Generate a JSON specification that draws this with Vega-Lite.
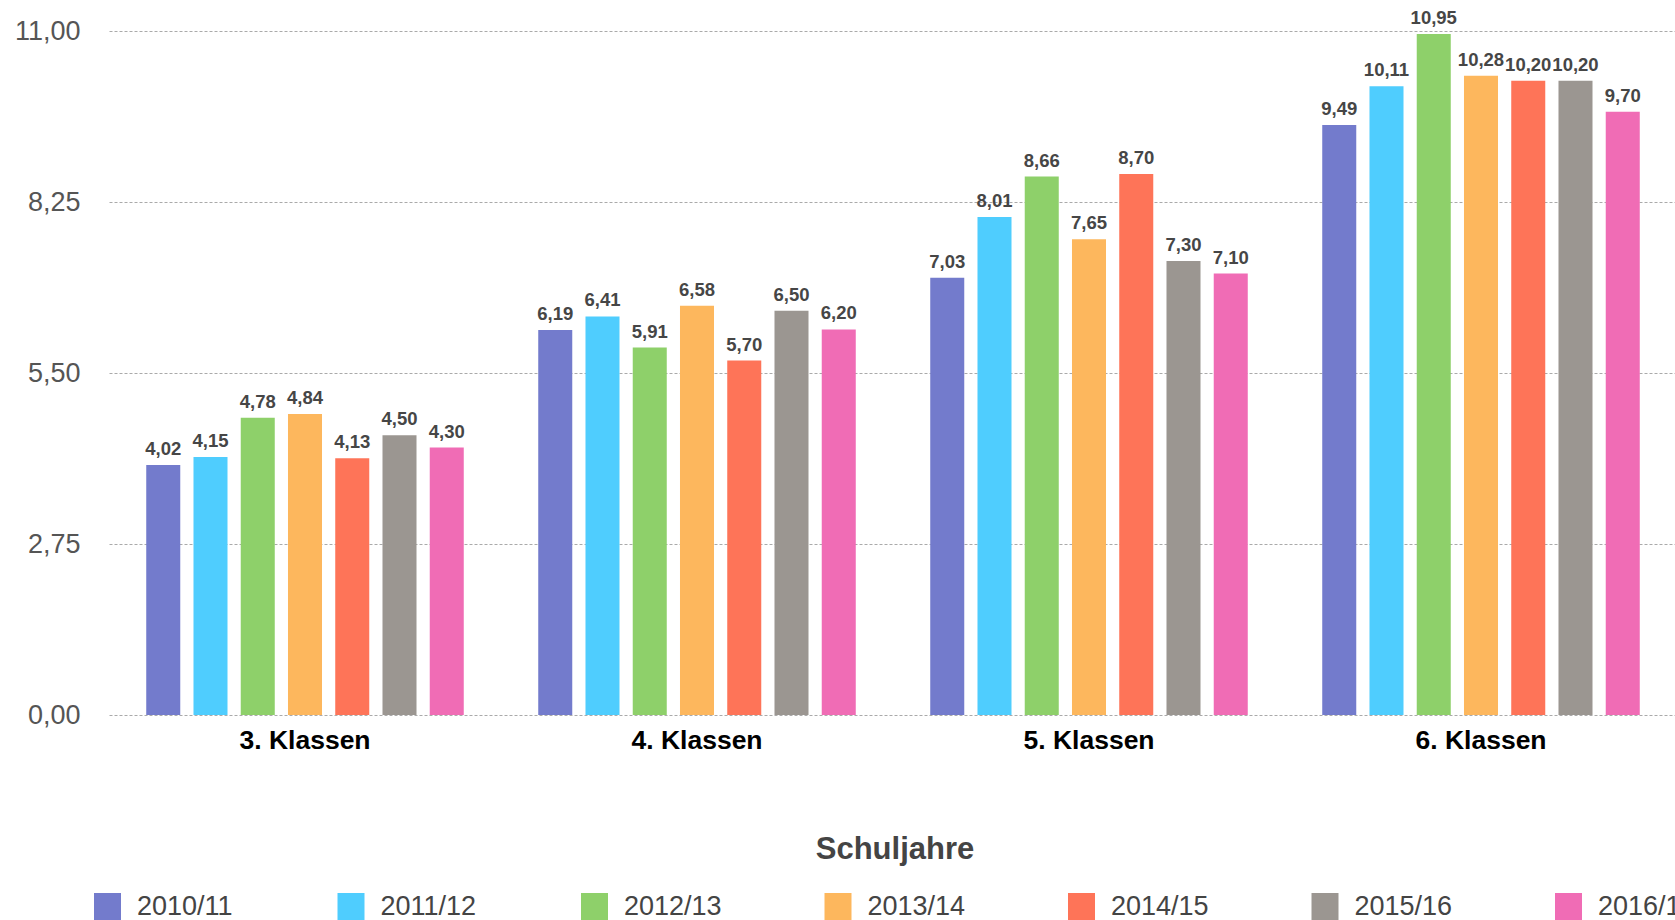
{
  "$schema": "https://vega.github.io/schema/vega-lite/v6.json",
  "autosize": "none",
  "padding": {"left": 109, "top": 31, "right": 0, "bottom": 205},
  "width": 1568,
  "height": 684,
  "background": "white",
  "config": {
    "font": "Liberation Sans",
    "view": {"stroke": null},
    "locale": {"number": {"decimal": ",", "thousands": ".", "grouping": [3], "currency": ["", " €"]}}
  },
  "data": {
    "values": [
      {"klasse": "3. Klassen", "jahr": "2010/11", "wert": 4.02},
      {"klasse": "3. Klassen", "jahr": "2011/12", "wert": 4.15},
      {"klasse": "3. Klassen", "jahr": "2012/13", "wert": 4.78},
      {"klasse": "3. Klassen", "jahr": "2013/14", "wert": 4.84},
      {"klasse": "3. Klassen", "jahr": "2014/15", "wert": 4.13},
      {"klasse": "3. Klassen", "jahr": "2015/16", "wert": 4.50},
      {"klasse": "3. Klassen", "jahr": "2016/17", "wert": 4.30},
      {"klasse": "4. Klassen", "jahr": "2010/11", "wert": 6.19},
      {"klasse": "4. Klassen", "jahr": "2011/12", "wert": 6.41},
      {"klasse": "4. Klassen", "jahr": "2012/13", "wert": 5.91},
      {"klasse": "4. Klassen", "jahr": "2013/14", "wert": 6.58},
      {"klasse": "4. Klassen", "jahr": "2014/15", "wert": 5.70},
      {"klasse": "4. Klassen", "jahr": "2015/16", "wert": 6.50},
      {"klasse": "4. Klassen", "jahr": "2016/17", "wert": 6.20},
      {"klasse": "5. Klassen", "jahr": "2010/11", "wert": 7.03},
      {"klasse": "5. Klassen", "jahr": "2011/12", "wert": 8.01},
      {"klasse": "5. Klassen", "jahr": "2012/13", "wert": 8.66},
      {"klasse": "5. Klassen", "jahr": "2013/14", "wert": 7.65},
      {"klasse": "5. Klassen", "jahr": "2014/15", "wert": 8.70},
      {"klasse": "5. Klassen", "jahr": "2015/16", "wert": 7.30},
      {"klasse": "5. Klassen", "jahr": "2016/17", "wert": 7.10},
      {"klasse": "6. Klassen", "jahr": "2010/11", "wert": 9.49},
      {"klasse": "6. Klassen", "jahr": "2011/12", "wert": 10.11},
      {"klasse": "6. Klassen", "jahr": "2012/13", "wert": 10.95},
      {"klasse": "6. Klassen", "jahr": "2013/14", "wert": 10.28},
      {"klasse": "6. Klassen", "jahr": "2014/15", "wert": 10.20},
      {"klasse": "6. Klassen", "jahr": "2015/16", "wert": 10.20},
      {"klasse": "6. Klassen", "jahr": "2016/17", "wert": 9.70}
    ]
  },
  "encoding": {
    "x": {
      "field": "klasse", "type": "nominal", "title": null,
      "scale": {"paddingInner": 0.19, "paddingOuter": 0.095},
      "axis": {"domain": false, "ticks": false, "labelAngle": 0, "labelFontSize": 26.5, "labelFontWeight": "bold", "labelColor": "#000000", "labelPadding": 12, "labelDx": -13}
    },
    "xOffset": {
      "field": "jahr", "type": "nominal",
      "scale": {"paddingInner": 0.28, "paddingOuter": 0}
    },
    "y": {
      "field": "wert", "type": "quantitative", "title": null,
      "scale": {"domain": [0, 11], "nice": false},
      "axis": {"domain": false, "ticks": false, "values": [0, 2.75, 5.5, 8.25, 11], "format": ".2f", "labelFontSize": 27, "labelColor": "#555555", "labelPadding": 29, "grid": true, "gridColor": "#aaaaaa", "gridDash": [3, 2], "gridWidth": 1}
    }
  },
  "layer": [
    {
      "mark": {"type": "bar"},
      "encoding": {
        "color": {
          "field": "jahr", "type": "nominal",
          "scale": {
            "domain": ["2010/11", "2011/12", "2012/13", "2013/14", "2014/15", "2015/16", "2016/17"],
            "range": ["#737bcc", "#4fcdfe", "#8ed06a", "#fdb75d", "#fe7458", "#9b9691", "#f06cb5"]
          },
          "legend": {
            "title": "Schuljahre",
            "orient": "none",
            "legendX": -15,
            "legendY": 804,
            "direction": "horizontal",
            "columns": 7,
            "gridAlign": "all",
            "columnPadding": 102.5,
            "titleOrient": "top",
            "titleAnchor": "middle",
            "titleFontSize": 31,
            "titleFontWeight": "bold",
            "titleColor": "#444444",
            "titlePadding": 27,
            "labelFontSize": 27,
            "labelColor": "#444444",
            "labelOffset": 16,
            "symbolType": "square",
            "symbolSize": 729,
            "symbolStrokeWidth": 0,
            "symbolOpacity": 1,
            "labelLimit": 300
          }
        }
      }
    },
    {
      "mark": {"type": "text", "baseline": "bottom", "dy": -6, "fontSize": 18.5, "fontWeight": "bold", "color": "#464646"},
      "encoding": {
        "text": {"field": "wert", "type": "quantitative", "format": ".2f"}
      }
    }
  ]
}
